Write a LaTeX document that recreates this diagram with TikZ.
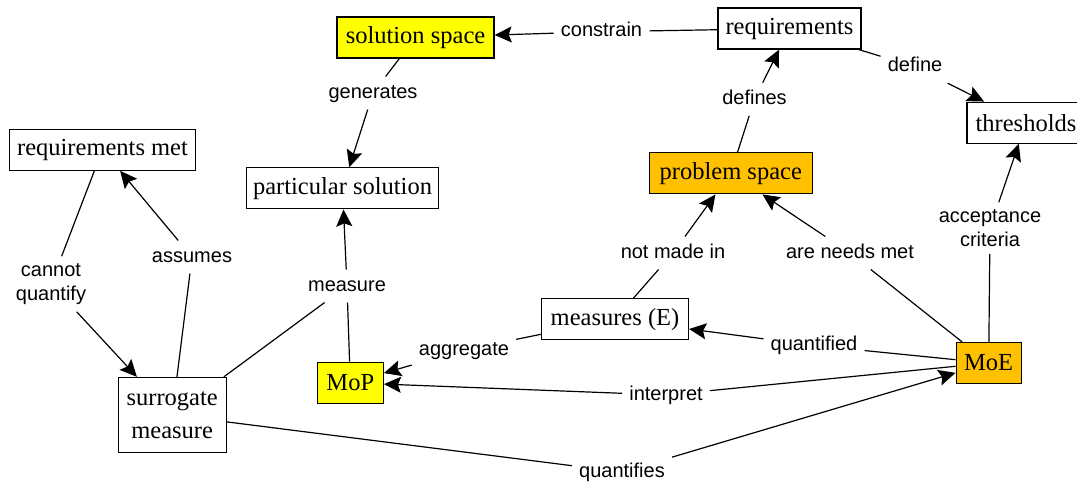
\documentclass[tikz,border=0pt]{standalone}
\usepackage{fontspec}
\setmainfont{Liberation Serif}
\newfontfamily\labelfont{Liberation Sans}
\usetikzlibrary{arrows.meta}
\definecolor{boxyellow}{HTML}{FFFF00}
\definecolor{boxorange}{HTML}{FFC000}

\begin{document}
\begin{tikzpicture}[x=1pt,y=-1pt,
  concept/.style={draw=black, line width=1.3pt, inner sep=0pt, minimum height=41pt,
    font=\fontsize{24.5}{33}\selectfont, fill=white},
  linkword/.style={inner sep=7pt, font=\labelfont\fontsize{20}{24}\selectfont,
    text height=14.4pt, text depth=4.2pt},
  linkwordtwo/.style={inner sep=7pt, font=\labelfont\fontsize{20}{24}\selectfont, align=center},
  link/.style={line width=1.2pt, draw=black},
  arrowlink/.style={link, -{Stealth[length=17pt,width=16pt,inset=3pt]}},
]
\useasboundingbox (0,0) rectangle (1077,484);
\clip (0,0) rectangle (1077,484);
\fill[white] (0,0) rectangle (1077,484);

% concepts
\node[concept, fill=boxyellow, minimum width=157pt] (solspace) at (415.5,37.5) {solution space};
\node[concept, minimum width=143pt] (req) at (789.5,28.5) {requirements};
\node[concept, minimum width=118pt] (thr) at (1026,122.7) {thresholds};
\node[concept, minimum width=186pt] (reqmet) at (102.5,149.7) {requirements met};
\node[concept, minimum width=192pt] (partsol) at (342.5,188.3) {particular solution};
\node[concept, fill=boxorange, minimum width=163pt] (probspace) at (730.8,173.3) {problem space};
\node[concept, minimum width=147pt] (measE) at (615,319.2) {measures (E)};
\node[concept, fill=boxyellow, minimum width=66pt] (mop) at (350.3,382.8) {MoP};
\node[concept, fill=boxorange, minimum width=65pt] (moe) at (988.7,363) {MoE};
\node[concept, minimum width=108pt, minimum height=75pt, align=center] (surr) at (172.2,415) {surrogate\\measure};

% linking phrases
\node[linkword] (lconstrain) at (601.5,31.7) {constrain};
\node[linkword] (lgenerates) at (373,93) {generates};
\node[linkword] (ldefines) at (754.5,99.3) {defines};
\node[linkword] (ldefine) at (915,66.7) {define};
\node[linkwordtwo] (lcannot) at (51,284) {cannot\\quantify};
\node[linkword] (lassumes) at (192,257) {assumes};
\node[linkword] (lmeasure) at (347,286) {measure};
\node[linkword] (lnotmade) at (673,253) {not made in};
\node[linkword] (lneeds) at (850,253) {are needs met};
\node[linkwordtwo] (laccept) at (990,228) {acceptance\\criteria};
\node[linkword] (laggregate) at (464,350) {aggregate};
\node[linkword] (lquantified) at (814,345.5) {quantified};
\node[linkword] (linterpret) at (666,395) {interpret};
\node[linkword] (lquantifies) at (622,472) {quantifies};

% connections
\draw[link] (req) -- (lconstrain);
\draw[arrowlink] (lconstrain) -- (solspace);

\draw[link] (solspace) -- (lgenerates);
\draw[arrowlink] (lgenerates) -- (partsol);

\draw[link] (probspace) -- (ldefines);
\draw[arrowlink] (ldefines) -- (req);

\draw[link] (req) -- (ldefine);
\draw[arrowlink] (ldefine) -- (thr);

\draw[link] (reqmet) -- (lcannot);
\draw[arrowlink] (lcannot) -- (surr);

\draw[link] (surr) -- (lassumes);
\draw[arrowlink] (lassumes) -- (reqmet);

\draw[link] (surr) -- (lmeasure);
\draw[link] (mop) -- (lmeasure);
\draw[arrowlink] (lmeasure) -- (partsol);

\draw[link] (measE) -- (lnotmade);
\draw[arrowlink] (lnotmade) -- (probspace);

\draw[link] (moe) -- (lneeds);
\draw[arrowlink] (lneeds) -- (probspace);

\draw[link] (moe) -- (laccept);
\draw[arrowlink] (laccept) -- (thr);

\draw[link] (measE) -- (laggregate);
\draw[arrowlink] (laggregate) -- (mop);

\draw[link] (moe) -- (lquantified);
\draw[arrowlink] (lquantified) -- (measE);

\draw[link] (moe) -- (linterpret);
\draw[arrowlink] (linterpret) -- (mop);

\draw[link] (surr) -- (lquantifies);
\draw[arrowlink] (lquantifies) -- (moe);
\end{tikzpicture}
\end{document}
